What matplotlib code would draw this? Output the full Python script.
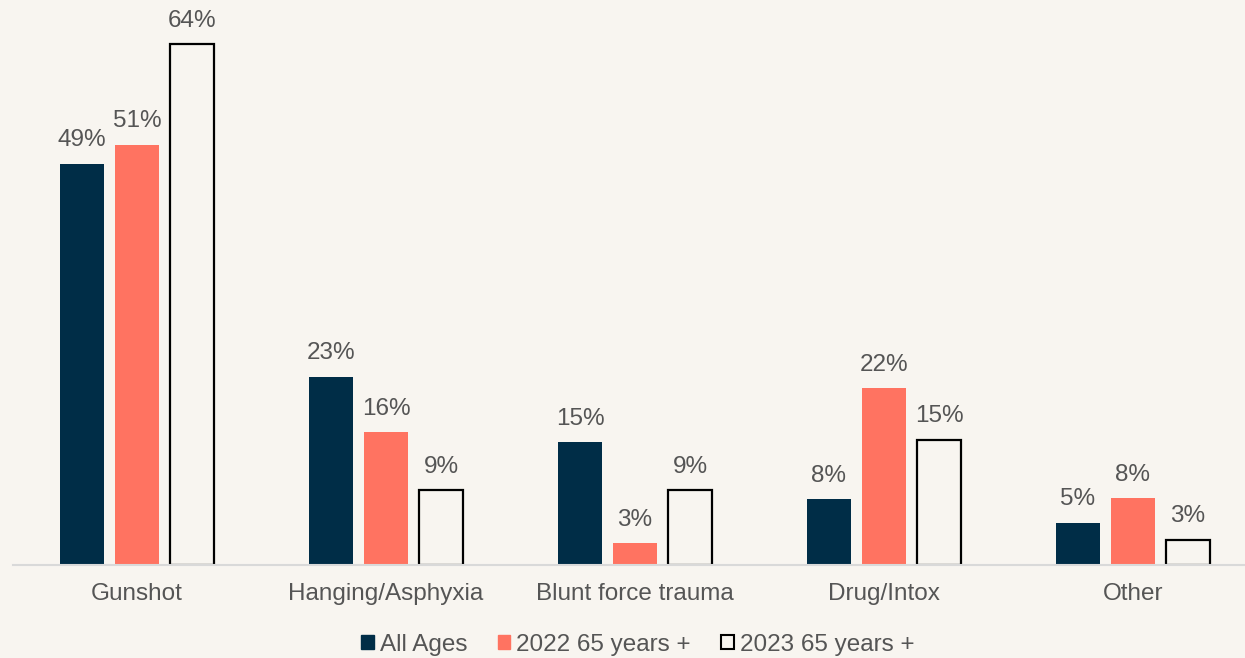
import numpy as np
import matplotlib.pyplot as plt
from matplotlib.patches import Patch

plt.rcParams['font.family'] = ['Liberation Sans', 'DejaVu Sans']

categories = ['Gunshot', 'Hanging/Asphyxia', 'Blunt force trauma', 'Drug/Intox', 'Other']
series_names = ['All Ages', '2022 65 years +', '2023 65 years +']
all_ages = [49.3, 23.1, 15.1, 8.1, 5.2]
y2022 = [51.6, 16.3, 2.7, 21.7, 8.2]
y2023 = [64.0, 9.2, 9.2, 15.4, 3.1]
labels_all = [49, 23, 15, 8, 5]
labels_2022 = [51, 16, 3, 22, 8]
labels_2023 = [64, 9, 9, 15, 3]

bg = '#F8F5F0'
navy = '#002D47'
coral = '#FF7361'
txt = '#555555'

fig = plt.figure(figsize=(12.45, 6.58), dpi=100, facecolor=bg)
ax = fig.add_axes([13 / 1245, 93 / 658, 1232 / 1245, 565 / 658])
ax.set_facecolor(bg)

x = np.arange(len(categories))
w = 44 / 249
off = 55 / 249

b1 = ax.bar(x - off, all_ages, w, color=navy)
b2 = ax.bar(x, y2022, w, color=coral)
b3 = ax.bar(x + off, y2023, w, color=bg, edgecolor='black', linewidth=1.6)

for bars, labs in [(b1, labels_all), (b2, labels_2022), (b3, labels_2023)]:
    for b, l in zip(bars, labs):
        ax.annotate(f'{l}%', (b.get_x() + b.get_width() / 2, b.get_height()),
                    xytext=(0, 9), textcoords='offset points',
                    ha='center', va='bottom', fontsize=17.5, color=txt)

ax.set_xlim((13 - 137) / 249, (1245 - 137) / 249)
ax.set_ylim(0, 565 / 8.14)
ax.set_xticks(x)
ax.set_xticklabels(categories, fontsize=17.5, color=txt)
ax.tick_params(axis='x', length=0, pad=13)
ax.set_yticks([])
for s in ['top', 'right', 'left']:
    ax.spines[s].set_visible(False)
ax.spines['bottom'].set_color('#D9D9D9')
ax.spines['bottom'].set_linewidth(1.5)

handles = [Patch(facecolor=navy, edgecolor=navy),
           Patch(facecolor=coral, edgecolor=coral),
           Patch(facecolor=bg, edgecolor='black', linewidth=1.5)]
fig.legend(handles, series_names, loc='center', bbox_to_anchor=(638 / 1245, 1 - 645 / 658),
           ncol=3, frameon=False, fontsize=17.5, labelcolor=txt,
           handlelength=0.52, handleheight=0.52, handletextpad=0.25, columnspacing=1.25)

fig.savefig('out.png', dpi=100, facecolor=bg)
